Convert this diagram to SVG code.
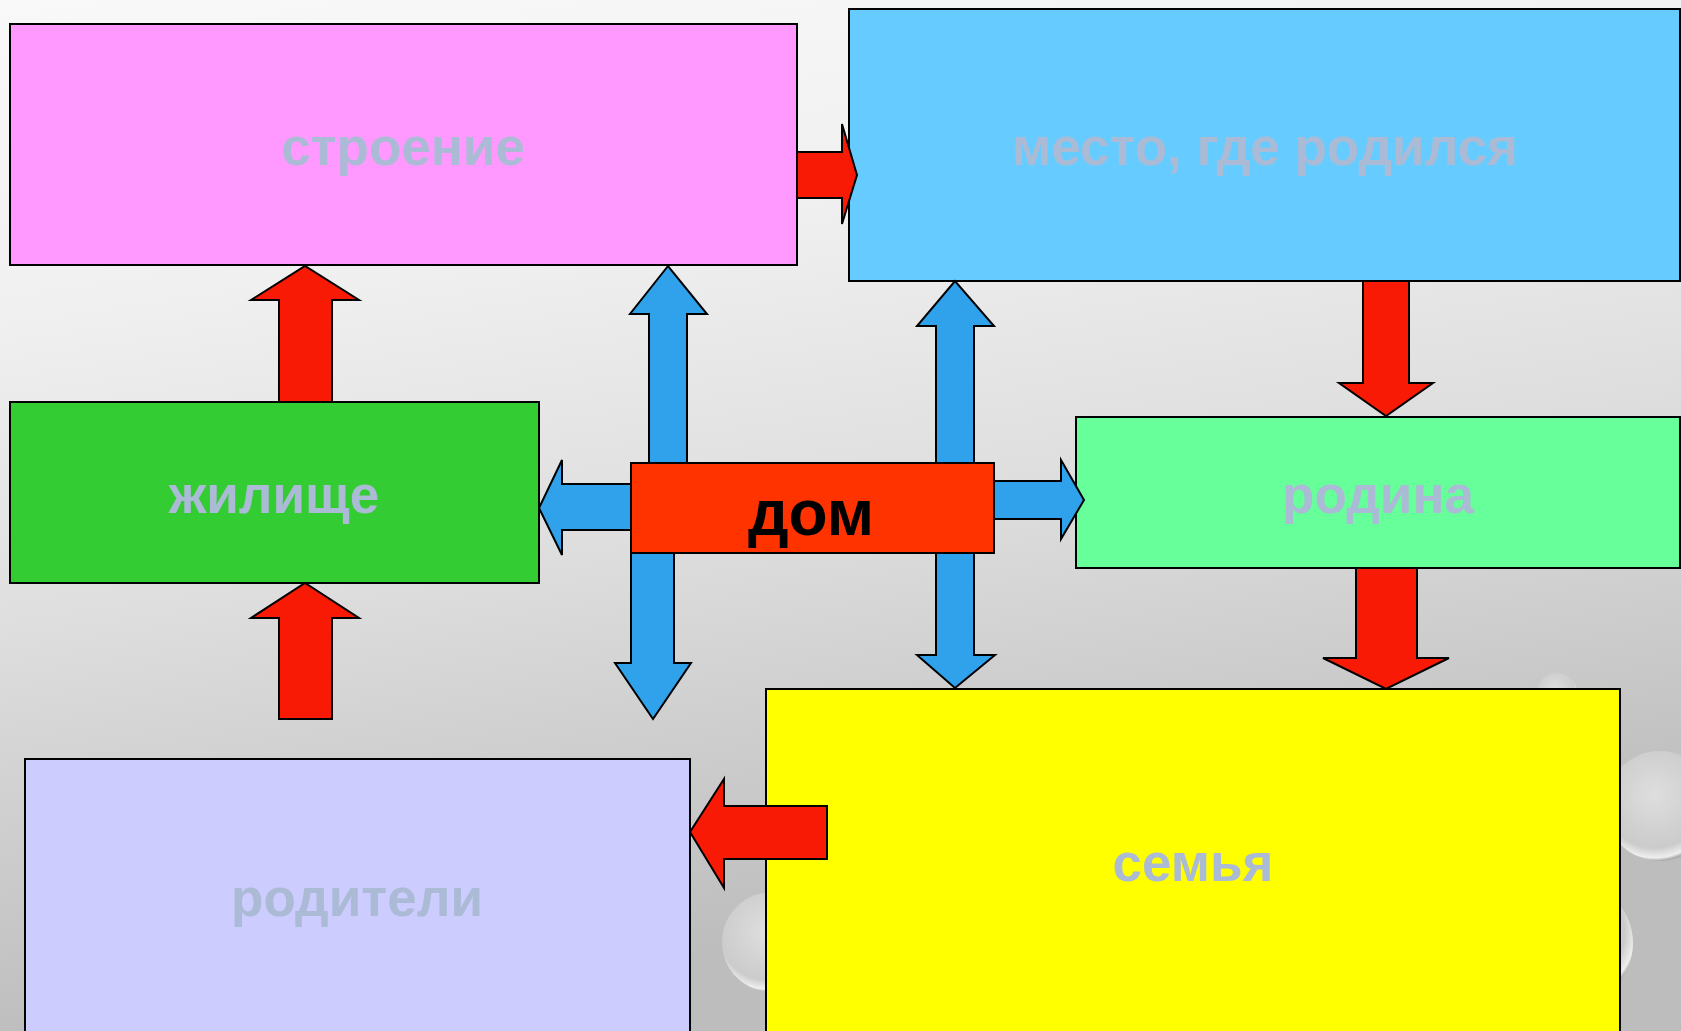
<svg xmlns="http://www.w3.org/2000/svg" width="1681" height="1031" viewBox="0 0 1681 1031">
  <defs>
    <linearGradient id="bg" gradientUnits="userSpaceOnUse" x1="0" y1="0" x2="150" y2="1031">
      <stop offset="0" stop-color="#f9f9f9"/>
      <stop offset="0.3" stop-color="#f0f0f0"/>
      <stop offset="0.6" stop-color="#dedede"/>
      <stop offset="1" stop-color="#bdbdbd"/>
    </linearGradient>
    <radialGradient id="bub" cx="0.45" cy="0.4" r="0.6">
      <stop offset="0" stop-color="#e2e2e2"/>
      <stop offset="0.8" stop-color="#cdcdcd"/>
      <stop offset="0.95" stop-color="#f4f4f4"/>
      <stop offset="1" stop-color="#a8a8a8"/>
    </radialGradient>
    <style>
      .box { stroke: #000; stroke-width: 2; }
      .lbl { font-family: "Liberation Sans", Arial, sans-serif; font-weight: bold; font-size: 53px; fill: #abbad5; text-anchor: middle; }
      .red { fill: #f81a04; stroke: #000; stroke-width: 2; stroke-linejoin: miter; }
      .blue { fill: #30a2ec; stroke: #000; stroke-width: 2; stroke-linejoin: miter; }
    </style>
  </defs>

  <rect x="0" y="0" width="1681" height="1031" fill="url(#bg)"/>

  <g id="bubbles" opacity="0.9">
    <circle cx="1557" cy="693" r="20" fill="url(#bub)"/>
    <circle cx="1660" cy="806" r="55" fill="url(#bub)"/>
    <circle cx="1573" cy="943" r="60" fill="url(#bub)"/>
    <circle cx="772" cy="942" r="50" fill="url(#bub)"/>
  </g>

  <g id="node-stroenie">
    <rect class="box" x="10" y="24" width="787" height="241" fill="#ff99ff"/>
    <text class="lbl" x="403" y="165">строение</text>
  </g>
  <g id="node-mesto">
    <rect class="box" x="849" y="9" width="831" height="272" fill="#66ccff"/>
    <text class="lbl" x="1265" y="165">место, где родился</text>
  </g>
  <g id="node-zhilishche">
    <rect class="box" x="10" y="402" width="529" height="181" fill="#33cc33"/>
    <text class="lbl" x="274" y="513">жилище</text>
  </g>
  <g id="node-rodina">
    <rect class="box" x="1076" y="417" width="604" height="151" fill="#66ff99"/>
    <text class="lbl" x="1378" y="513">родина</text>
  </g>
  <g id="node-semya">
    <rect class="box" x="766" y="689" width="854" height="345" fill="#ffff00"/>
    <text class="lbl" x="1193" y="881">семья</text>
  </g>
  <g id="node-roditeli">
    <rect class="box" x="25" y="759" width="665" height="275" fill="#ccccff"/>
    <text class="lbl" x="357" y="916">родители</text>
  </g>

  <g id="connectors">
    <polygon class="red" points="797,152 842,152 842,124 857,175 842,224 842,198 797,198"/>
    <polygon class="red" points="1363,281 1409,281 1409,383 1433,383 1386,416 1339,383 1363,383"/>
    <polygon class="red" points="1356,568 1417,568 1417,658 1449,658 1386,689 1323,658 1356,658"/>
    <polygon class="red" points="827,806 827,859 724,859 724,888 690,832 724,779 724,806"/>
    <polygon class="red" points="279,719 279,618 251,618 305,583 359,618 332,618 332,719"/>
    <polygon class="red" points="279,402 279,300 251,300 305,266 359,300 332,300 332,402"/>

    <polygon class="blue" points="649,463 649,314 630,314 668,266 707,314 687,314 687,463"/>
    <polygon class="blue" points="936,463 936,326 917,326 955,281 994,326 974,326 974,463"/>
    <polygon class="blue" points="631,484 562,484 562,460 539,508 562,555 562,530 631,530"/>
    <polygon class="blue" points="993,481 1061,481 1061,460 1084,500 1061,539 1061,519 993,519"/>
    <polygon class="blue" points="631,552 631,663 615,663 653,719 691,663 674,663 674,552"/>
    <polygon class="blue" points="936,552 936,655 917,655 955,688 995,655 974,655 974,552"/>
  </g>

  <g id="node-dom">
    <rect class="box" x="631" y="463" width="363" height="90" fill="#ff3300"/>
    <text x="811" y="535" font-family="'Liberation Sans', Arial, sans-serif" font-weight="bold" font-size="64" fill="#000" text-anchor="middle">дом</text>
  </g>
</svg>
